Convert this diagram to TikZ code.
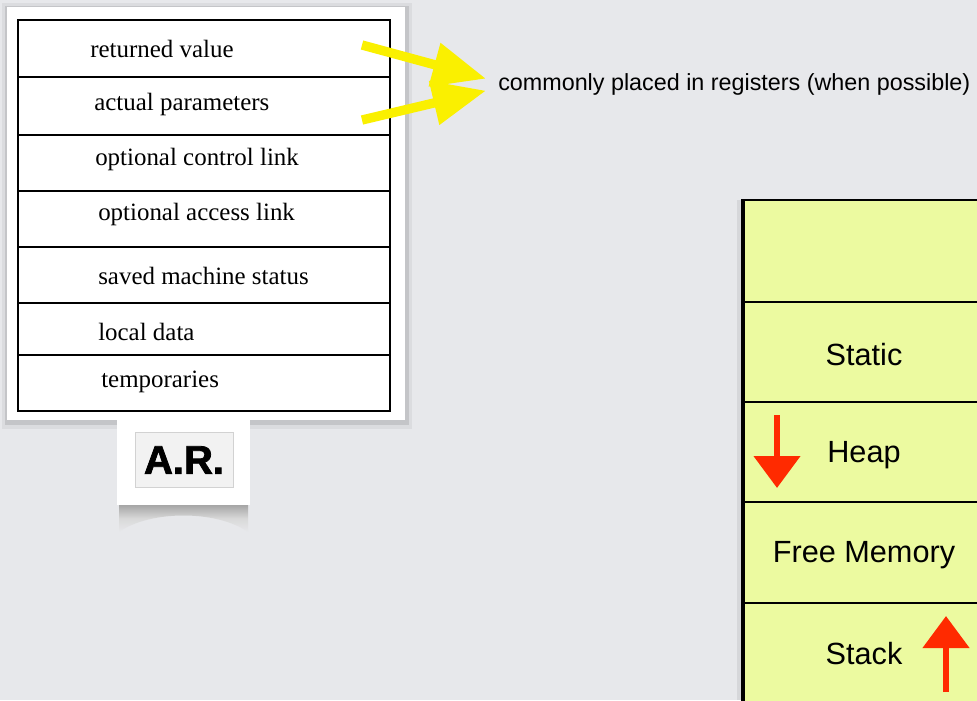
\documentclass[tikz,border=0pt]{standalone}
\usepackage{fontspec}
\setmainfont{Liberation Serif}
\setsansfont{Liberation Sans}
\newfontfamily\arfont{Liberation Sans}[BoldFeatures={FakeBold=2}]
\usetikzlibrary{arrows.meta}
\definecolor{bgc}{RGB}{231,232,235}
\definecolor{memc}{RGB}{236,250,160}
\definecolor{arrred}{RGB}{255,42,0}
\definecolor{arryel}{RGB}{250,240,0}
\tikzset{
	cell/.style={anchor=west,inner sep=0pt,font=\fontsize{18.7}{20}\selectfont},
	memlbl/.style={inner sep=0pt,font=\sffamily\fontsize{23}{25}\selectfont},
	yarrow/.style={arryel,line width=7pt,-{Triangle[width=32pt,length=40pt]}},
	rarrow/.style={arrred,line width=5pt,-{Triangle[width=34pt,length=24pt]}}
}
\begin{document}
\begin{tikzpicture}[x=0.75pt,y=-0.75pt]
			\clip (0,0) rectangle (977,700);
			\fill[bgc] (0,0) rectangle (977,700);
			% activation record card
			\fill[black,opacity=.05] (2,3) rectangle (412,429);
			\fill[black,opacity=.10] (5,6) rectangle (409,425);
			\shade[top color=black!35,bottom color=bgc,middle color=black!15] (119,505)--(119,532)..controls (150,510) and (217,510)..(248,532)--(248,505)--cycle;
			\fill[white] (7,7) rectangle (405,420);
			\fill[white] (117,415) rectangle (250,505);
			\draw[line width=2.2pt] (18,20) rectangle (390,411);
			\foreach \y in {77,135,191,247,303,355}
			\draw[line width=2pt] (18,\y)--(390,\y);
			\foreach \nm/\x/\y/\txt in {rv/90/49/returned value,ap/94/105/actual parameters,ctl/95/160/optional control link,acc/98/214/optional access link,sms/98/276/saved machine status,ld/98/332/local data,tmp/101/382/temporaries}
			\node[cell] (\nm) at (\x,\y) {\txt};
			\node[draw=gray!35,fill=gray!10,minimum width=73.5pt,minimum height=41pt,font=\arfont\bfseries\fontsize{30}{31}\selectfont] (ar) at (184,460) {A.R.};
			% registers
			\node[anchor=west,inner sep=0pt,font=\sffamily\fontsize{17.5}{19}\selectfont] (reg) at (498,84) {commonly placed in registers (when possible)};
			\coordinate (rvend) at (362,45);
			\coordinate (apend) at (362,120);
			\draw[yarrow] (rvend)--([xshift=-9pt,yshift=4pt]reg.west);
			\draw[yarrow] (apend)--([xshift=-9pt,yshift=-5pt]reg.west);
			% memory layout
			\fill[black,opacity=.07] (737,200) rectangle (743,700);
			\fill[memc] (743,200) rectangle (990,710);
			\draw[line width=1.1pt] (743,200)--(990,200);
			\foreach \y in {302,402,502,603}
			\draw[line width=1pt] (743,\y)--(990,\y);
			\draw[line width=2.4pt] (743,199)--(743,710);
			\node[memlbl] (static) at (864,355) {Static};
			\node[memlbl] (heap) at (864,455) {Heap};
			\node[memlbl] (free) at (864,555) {Free Memory};
			\node[memlbl] (stack) at (864,654) {Stack};
			\coordinate (heaptop) at (777,415);
			\coordinate (heapbot) at (777,488);
			\coordinate (stackbot) at (946,692);
			\coordinate (stacktop) at (946,616);
			\draw[rarrow] (heaptop)--(heapbot);
			\draw[rarrow] (stackbot)--(stacktop);
		\end{tikzpicture}
\end{document}
